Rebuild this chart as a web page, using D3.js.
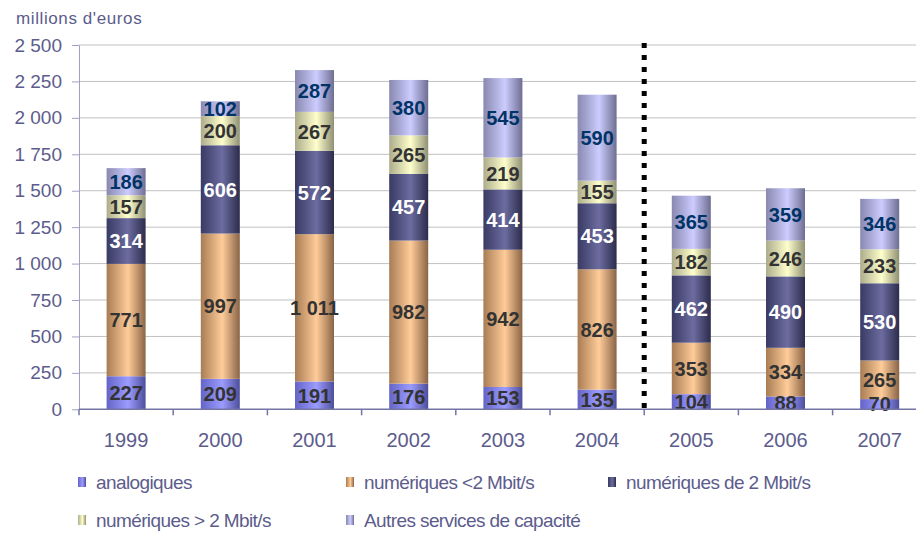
<!DOCTYPE html>
<html><head><meta charset="utf-8">
<script src="https://cdn.jsdelivr.net/npm/d3@7"></script>
<style>body{margin:0;background:#fff;} svg{display:block;font-family:"Liberation Sans",Arial,sans-serif;}</style>
</head><body>
<svg id="c" width="916" height="533"></svg>
<script>
const years = ["1999","2000","2001","2002","2003","2004","2005","2006","2007"];
const seriesNames = ["analogiques","numériques <2 Mbit/s","numériques de 2 Mbit/s","numériques > 2 Mbit/s","Autres services de capacité"];
const analogiques = [227,209,191,176,153,135,104,88,70];
const numInf2 = [771,997,1011,982,942,826,353,334,265];
const numDe2 = [314,606,572,457,414,453,462,490,530];
const numSup2 = [157,200,267,265,219,155,182,246,233];
const autres = [186,102,287,380,545,590,365,359,346];
const yTicks = [0,250,500,750,1000,1250,1500,1750,2000,2250,2500];
const yTitle = "millions d'euros";
const separatorAfter = "2004";

const seriesValues = [analogiques, numInf2, numDe2, numSup2, autres];
const grad = [
  ["#6464c8","#9c9cff","#4e4e9c"],
  ["#a87c54","#ffcc99","#8a6446"],
  ["#3a3a64","#6c6ca0","#2c2c4c"],
  ["#acac8c","#ffffcc","#909074"],
  ["#8888b0","#ccccff","#6e6e92"]
];
const labelColors = ["#333333","#333333","#ffffff","#333333","#003366"];
const textColor = "#5c5c8c";

const svg = d3.select("#c");
const defs = svg.append("defs");
grad.forEach((g,i)=>{
  const lg = defs.append("linearGradient").attr("id","g"+i).attr("x1","0").attr("x2","1").attr("y1","0").attr("y2","0");
  lg.append("stop").attr("offset","0%").attr("stop-color",g[0]);
  lg.append("stop").attr("offset","55%").attr("stop-color",g[1]);
  lg.append("stop").attr("offset","100%").attr("stop-color",g[2]);
});

const left = 79, step = 94.2;
const x = d3.scaleBand().domain(years).range([left, left + step*years.length]).padding(0);
const y = d3.scaleLinear().domain([0,2500]).range([409.3,45]);
const barW = 39;

// gridlines
svg.append("g").selectAll("line").data(yTicks.filter(d=>d>0)).join("line")
  .attr("x1",left).attr("x2",916).attr("y1",d=>y(d)).attr("y2",d=>y(d))
  .attr("stroke","#c0c0c0").attr("stroke-width",1);

// y axis
const fmt = v => d3.format(",")(v).replace(/,/g," ");
const yAxis = svg.append("g").attr("transform",`translate(${left},0)`)
  .call(d3.axisLeft(y).tickValues(yTicks).tickFormat(fmt).tickSizeOuter(0).tickSizeInner(7).tickPadding(10));
yAxis.select(".domain").attr("stroke","#a0a0c4");
yAxis.selectAll(".tick line").attr("stroke","#a0a0c4");
yAxis.selectAll("text").attr("fill",textColor).attr("font-size",19).attr("font-family","Liberation Sans, Arial, sans-serif");

// stacked data
const table = years.map((yr,i)=>{ const o={year:yr}; seriesNames.forEach((s,j)=>o[s]=seriesValues[j][i]); return o;});
const stack = d3.stack().keys(seriesNames)(table);

const gBars = svg.append("g");
stack.forEach((layer,si)=>{
  gBars.selectAll(null).data(layer).join("rect")
    .attr("x",d=>x(d.data.year)+x.bandwidth()/2-barW/2)
    .attr("width",barW)
    .attr("y",d=>y(d[1]))
    .attr("height",d=>y(d[0])-y(d[1]))
    .attr("fill",`url(#g${si})`);
});

// x axis
const xAxisG = svg.append("g");
xAxisG.append("line").attr("x1",left).attr("x2",916).attr("y1",y(0)).attr("y2",y(0)).attr("stroke","#7474a4").attr("stroke-width",1.5);
const boundaries = years.map(yr=>x(yr)).concat([x(years[years.length-1])+x.bandwidth()]);
xAxisG.selectAll("line.t").data(boundaries).join("line").attr("class","t")
  .attr("x1",d=>d).attr("x2",d=>d).attr("y1",y(0)).attr("y2",y(0)+6).attr("stroke","#7474a4").attr("stroke-width",1.5);
xAxisG.selectAll("text").data(years).join("text")
  .attr("x",d=>x(d)+x.bandwidth()/2).attr("y",447).attr("text-anchor","middle")
  .attr("fill",textColor).attr("font-size",20).text(d=>d);

// labels
stack.forEach((layer,si)=>{
  gBars.selectAll(null).data(layer).join("text")
    .attr("x",d=>x(d.data.year)+x.bandwidth()/2)
    .attr("y",d=>(y(d[0])+y(d[1]))/2)
    .attr("dy","0.36em").attr("text-anchor","middle")
    .attr("font-size",20).attr("font-weight","bold").attr("fill",labelColors[si])
    .text(d=>fmt(d.data[seriesNames[si]]));
});

// separator
const sx = x(years[years.indexOf(separatorAfter)+1]);
svg.append("line").attr("x1",sx).attr("x2",sx).attr("y1",y(2500)-2).attr("y2",y(0))
  .attr("stroke","#000").attr("stroke-width",5).attr("stroke-dasharray","5,7");

// title
svg.append("text").attr("x",16).attr("y",24).attr("fill",textColor).attr("font-size",17).attr("letter-spacing","0.6").text(yTitle);

// legend
const legPos = [[78,482],[346,482],[608,482],[78,520],[346,520]];
const leg = svg.append("g");
seriesNames.forEach((s,i)=>{
  const [lx,ly] = legPos[i];
  leg.append("rect").attr("x",lx).attr("y",ly-5).attr("width",8).attr("height",10).attr("fill",`url(#g${i})`);
  leg.append("text").attr("x",lx+18).attr("y",ly).attr("dy","0.35em").attr("fill",textColor)
    .attr("font-size",19).attr("letter-spacing","-0.6").text(s);
});
</script>
</body></html>
